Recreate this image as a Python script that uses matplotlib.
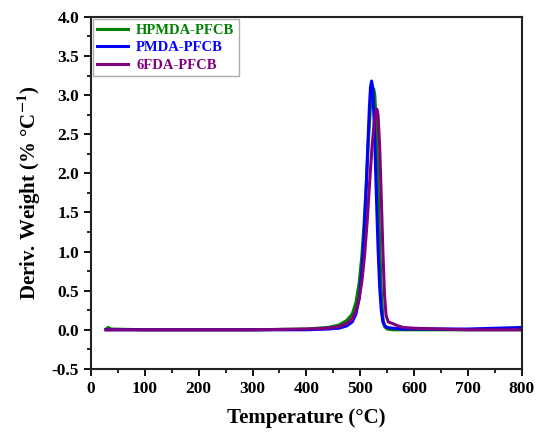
import matplotlib
matplotlib.use("Agg")
import matplotlib.pyplot as plt
from matplotlib.ticker import MultipleLocator, FormatStrFormatter

# values
t_hpmda = [28, 32, 38, 100, 200, 300, 400, 440, 460, 475, 485, 492, 498, 503, 507, 511,
           515, 519, 522, 525, 527, 530, 533, 536, 539, 542, 545, 550, 560, 600, 700, 800]
w_hpmda = [0.01, 0.03, 0.01, 0.0, 0.0, 0.0, 0.01, 0.03, 0.06, 0.12, 0.2, 0.35, 0.6, 0.95, 1.35, 1.85,
           2.4, 2.85, 3.05, 3.08, 3.0, 2.6, 1.9, 1.1, 0.5, 0.15, 0.04, 0.01, 0.0, 0.0, 0.0, 0.0]

t_pmda = [28, 35, 100, 200, 300, 400, 440, 460, 475, 485, 492, 498, 503, 507, 511, 514, 517,
          519, 521, 523, 525, 527, 530, 533, 536, 539, 542, 546, 550, 560, 580, 600, 700, 800]
w_pmda = [0.0, 0.0, 0.0, 0.0, 0.0, 0.0, 0.01, 0.02, 0.05, 0.1, 0.2, 0.4, 0.75, 1.2, 1.8, 2.35, 2.85,
          3.1, 3.18, 3.1, 2.8, 2.4, 1.7, 1.05, 0.55, 0.25, 0.1, 0.05, 0.03, 0.02, 0.01, 0.01, 0.01, 0.03]

t_6fda = [28, 35, 100, 200, 300, 400, 440, 460, 475, 485, 492, 498, 503, 508, 513, 518, 522,
          526, 529, 531, 533, 536, 539, 542, 545, 548, 552, 560, 570, 580, 600, 700, 800]
w_6fda = [0.0, 0.0, 0.0, 0.0, 0.0, 0.01, 0.02, 0.04, 0.08, 0.14, 0.24, 0.4, 0.62, 0.95, 1.4, 1.95, 2.35,
          2.65, 2.8, 2.82, 2.75, 2.35, 1.7, 1.0, 0.45, 0.18, 0.1, 0.08, 0.05, 0.03, 0.02, 0.0, 0.0]

labels = ["HPMDA-PFCB", "PMDA-PFCB", "6FDA-PFCB"]
colors = ["#008000", "#0000ff", "#800080"]

plt.rcParams['font.family'] = ['Liberation Serif', 'DejaVu Serif']
plt.rcParams['font.weight'] = 'bold'
plt.rcParams['mathtext.fontset'] = 'stix'

fig = plt.figure(figsize=(5.38, 4.33), dpi=100)
ax = fig.add_axes([0.169, 0.148, 0.801, 0.813])

for t, w, lab, c in zip([t_hpmda, t_pmda, t_6fda], [w_hpmda, w_pmda, w_6fda], labels, colors):
    ax.plot(t, w, color=c, lw=2.2, label=lab)

ax.set_xlim(0, 800)
ax.set_ylim(-0.5, 4.0)
ax.xaxis.set_major_locator(MultipleLocator(100))
ax.xaxis.set_minor_locator(MultipleLocator(50))
ax.yaxis.set_major_locator(MultipleLocator(0.5))
ax.yaxis.set_minor_locator(MultipleLocator(0.25))
ax.yaxis.set_major_formatter(FormatStrFormatter('%.1f'))
ax.tick_params(which='major', direction='out', length=5, width=1.3, labelsize=12.5)
ax.tick_params(which='minor', direction='out', length=3, width=1.2)
for s in ax.spines.values():
    s.set_linewidth(1.5)
    s.set_color('#222222')

ax.set_xlabel("Temperature (\u00b0C)", fontsize=15, fontweight='bold', labelpad=8)
ax.set_ylabel("Deriv. Weight (% \u00b0C$^{\\mathbf{-1}}$)", fontsize=15, fontweight='bold', labelpad=6)

leg = ax.legend(loc='upper left', fontsize=10.5, frameon=True, fancybox=False,
                borderaxespad=0.15, handlelength=2.1, labelspacing=0.3, borderpad=0.3,
                handletextpad=0.55)
leg.get_frame().set_edgecolor('#999999')
leg.get_frame().set_linewidth(1.0)
for txt, c in zip(leg.get_texts(), colors):
    txt.set_color(c)
    txt.set_fontweight('bold')

fig.savefig("out.png", dpi=100)
